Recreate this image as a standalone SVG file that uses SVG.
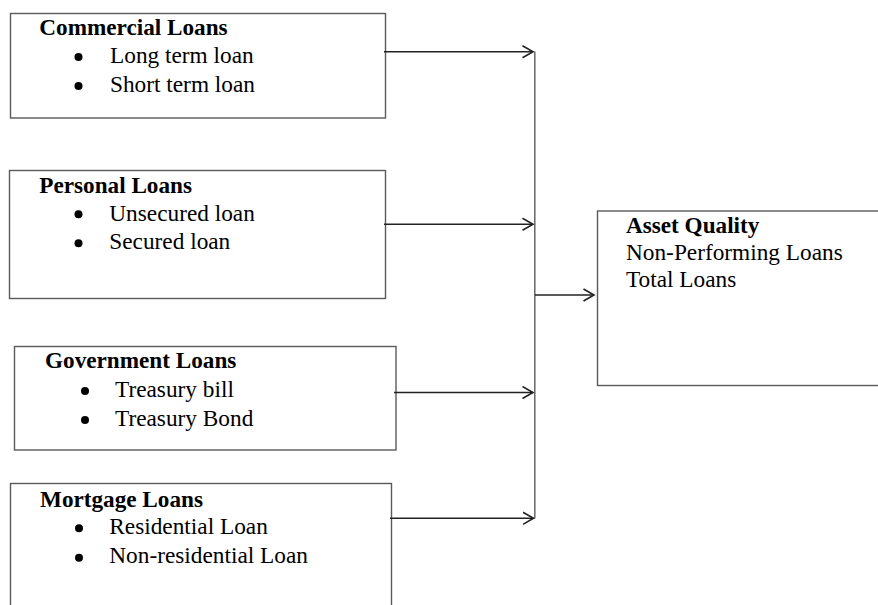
<svg xmlns="http://www.w3.org/2000/svg" width="878" height="605" viewBox="0 0 878 605">
<style>
.box{fill:#fff;stroke:#5a5a5a;stroke-width:1.4}
.h{font-family:"Liberation Serif","Times New Roman",serif;font-weight:bold;font-size:23.2px;fill:#000}
.t{font-family:"Liberation Serif","Times New Roman",serif;font-size:23.3px;fill:#000}
.b{fill:#000}
.c{fill:none;stroke:#222;stroke-width:1.5}
.v{fill:none;stroke:#666;stroke-width:1.5}
</style>
<defs>
<marker id="arr" markerUnits="userSpaceOnUse" markerWidth="14" markerHeight="14" refX="11" refY="7" orient="auto">
<path d="M0.5,1 L11,7 L0.5,13" fill="none" stroke="#222" stroke-width="1.6"/>
</marker>
</defs>
<rect width="878" height="605" fill="#fff"/>
<g id="commercial">
<rect class="box" x="10.5" y="13.5" width="375" height="104.5"/>
<text class="h" x="39.3" y="35">Commercial Loans</text>
<circle class="b" cx="78.5" cy="57" r="4"/>
<text class="t" x="110" y="63.3">Long term loan</text>
<circle class="b" cx="78.5" cy="86" r="4"/>
<text class="t" x="110" y="92.3">Short term loan</text>
</g>
<g id="personal">
<rect class="box" x="9.5" y="170.5" width="376" height="128"/>
<text class="h" x="39.3" y="193.3">Personal Loans</text>
<circle class="b" cx="78.5" cy="214.3" r="4"/>
<text class="t" x="109.3" y="220.7">Unsecured loan</text>
<circle class="b" cx="78.5" cy="243.3" r="4"/>
<text class="t" x="109.3" y="249.3">Secured loan</text>
</g>
<g id="government">
<rect class="box" x="14.5" y="346.5" width="381.5" height="103.5"/>
<text class="h" x="45" y="368.3">Government Loans</text>
<circle class="b" cx="85" cy="391" r="4"/>
<text class="t" x="115" y="396.7">Treasury bill</text>
<circle class="b" cx="85" cy="420" r="4"/>
<text class="t" x="115" y="425.7">Treasury Bond</text>
</g>
<g id="mortgage">
<rect class="box" x="10.5" y="483.5" width="381" height="140"/>
<text class="h" x="40" y="506.7">Mortgage Loans</text>
<circle class="b" cx="79" cy="528.3" r="4"/>
<text class="t" x="109.3" y="534">Residential Loan</text>
<circle class="b" cx="79" cy="557.7" r="4"/>
<text class="t" x="109.3" y="563.3">Non-residential Loan</text>
</g>
<g id="asset">
<rect class="box" x="597.5" y="211" width="300" height="174.5"/>
<text class="h" x="626" y="233.3">Asset Quality</text>
<text class="t" x="626" y="260">Non-Performing Loans</text>
<text class="t" x="626" y="287.3">Total Loans</text>
</g>
<g id="connectors">
<line class="v" x1="534.8" y1="51.5" x2="534.8" y2="518.5"/>
<line class="c" x1="384" y1="51.7" x2="533" y2="51.7" marker-end="url(#arr)"/>
<line class="c" x1="384" y1="224.3" x2="533" y2="224.3" marker-end="url(#arr)"/>
<line class="c" x1="394" y1="392.5" x2="533" y2="392.5" marker-end="url(#arr)"/>
<line class="c" x1="390" y1="518.3" x2="533.5" y2="518.3" marker-end="url(#arr)"/>
<line class="c" x1="535" y1="295" x2="594" y2="295" marker-end="url(#arr)"/>
</g>
</svg>
